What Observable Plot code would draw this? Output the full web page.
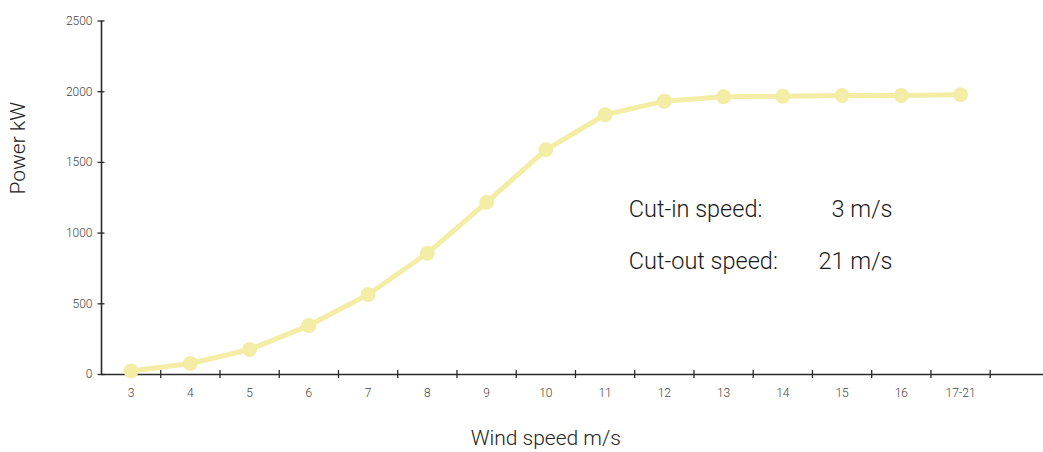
<!DOCTYPE html>
<html><head><meta charset="utf-8">
<script src="https://cdn.jsdelivr.net/npm/d3@7"></script>
<script src="https://cdn.jsdelivr.net/npm/@observablehq/plot@0.6"></script>
<style>
html,body{margin:0;padding:0;background:#fff;}
#chart svg{display:block}
</style></head><body><div id="chart"></div>
<script>
const speeds = ["3","4","5","6","7","8","9","10","11","12","13","14","15","16","17-21"];
const power = [25,78,177,346,566,857,1218,1589,1837,1933,1964,1968,1973,1973,1978];
const yTicks = [0,500,1000,1500,2000,2500];
const xTitle = "Wind speed m/s";
const yTitle = "Power kW";
const noteLabels = ["Cut-in speed:","Cut-out speed:"];
const noteValues = ["3 m/s","21 m/s"];

const data = speeds.map((s,i)=>({i, speed:s, power: power[i]}));
const idx = speeds.map((_,i)=>i);
const bounds = idx.map(i=>i+0.5);
const notes = noteLabels.map((l,k)=>({label:l, value:noteValues[k], k}));
const noteY = [1165, 800];

const font = "'Helvetica Neue', Roboto, 'Liberation Sans', sans-serif";
const axisColor = "#2a2a2a";
const lineColor = "#f3eda5";

const chart = Plot.plot({
  width:1043, height:452,
  marginLeft:101, marginRight:0, marginTop:20.5, marginBottom:78,
  style:{fontFamily: font, fontWeight: 300, background:"#fff", overflow:"visible"},
  x:{type:"linear", domain:[-0.5, 15.4]},
  y:{domain:[0,2500]},
  marks:[
    Plot.axisX({ticks: idx, tickFormat: i=>speeds[i], tickSize:0, tickPadding:14, fontSize:12, fill:"#444", label:null}),
    Plot.axisY({ticks: yTicks, tickFormat: d=>String(d), tickSize:0, tickPadding:9, fontSize:12, fill:"#444", label:null}),
    Plot.ruleY([0], {stroke:axisColor, strokeWidth:1.6}),
    Plot.ruleX([-0.5], {y1:0, y2:2500, stroke:axisColor, strokeWidth:1.6}),
    Plot.ruleX(bounds, {x:d=>d, y1:0, y2:0, insetTop:-4, insetBottom:-4, stroke:axisColor, strokeWidth:1.3}),
    Plot.ruleY(yTicks, {y:d=>d, x1:-0.5, x2:-0.5, insetLeft:-3.5, insetRight:-3.5, stroke:axisColor, strokeWidth:1.3}),
    Plot.line(data, {x:"i", y:"power", stroke:lineColor, strokeWidth:5}),
    Plot.dot(data, {x:"i", y:"power", r:7.5, fill:lineColor}),
    Plot.text(notes, {x: ()=>8.4, y: d=>noteY[d.k], text:"label", textAnchor:"start", fontSize:23.5, fill:"#1a1a1a"}),
    Plot.text(notes, {x: ()=>12.85, y: d=>noteY[d.k], text:"value", textAnchor:"end", fontSize:23.5, fill:"#1a1a1a"}),
    Plot.text([xTitle], {x: ()=>7, frameAnchor:"bottom", dy:70, text:d=>d, fontSize:21, fill:"#222"}),
    Plot.text([yTitle], {x: ()=>-0.5, y: ()=>1600, dx:-83, rotate:-90, text:d=>d, fontSize:21, fill:"#222"})
  ]
});
document.getElementById("chart").appendChild(chart);
</script></body></html>
